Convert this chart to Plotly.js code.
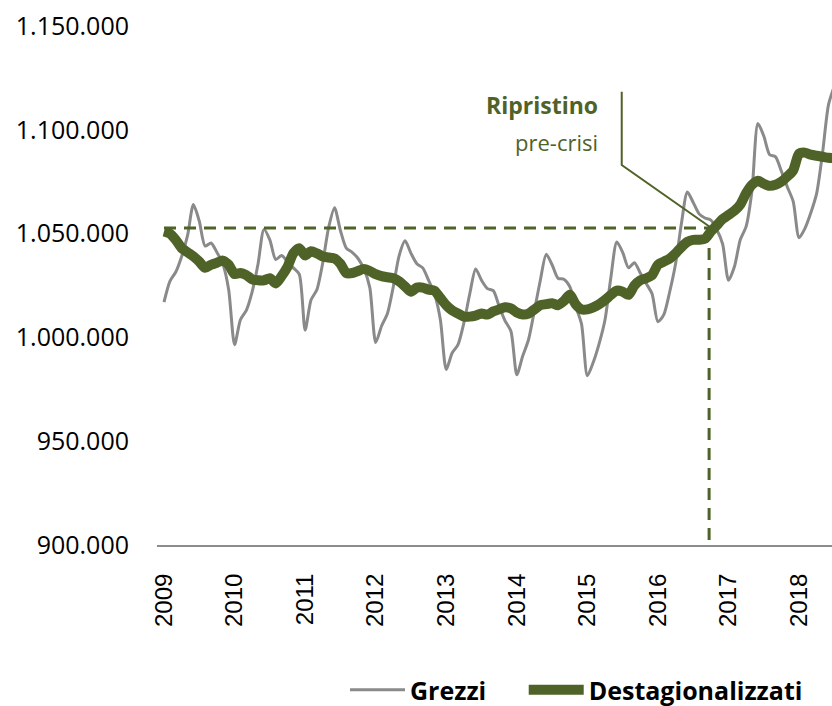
<!DOCTYPE html>
<html>
<head>
<meta charset="utf-8">
<script src="https://cdn.plot.ly/plotly-3.0.1.min.js"></script>
<style>
  html, body { margin: 0; padding: 0; background: #ffffff; }
  #chart { width: 832px; height: 706px; }
</style>
</head>
<body>
<div id="chart"></div>
<script>
// ---- Data (monthly, January 2009 onward) ----
const startYear = 2009;
const yearLabels = ["2009","2010","2011","2012","2013","2014","2015","2016","2017","2018"];
const seriesNames = ["Grezzi", "Destagionalizzati"];

const grezzi = [
  1017000,1027000,1031500,1039000,1049000,1064000,1056000,1044000,1045500,1041000,1035500,1023000,
  996500,1008500,1013000,1022000,1035500,1052000,1047000,1037500,1039500,1036500,1033500,1030500,
  1003500,1018000,1023000,1036000,1053000,1062500,1051500,1043000,1041000,1038000,1033000,1024000,
  997500,1005500,1011500,1024500,1039500,1046500,1040500,1035500,1033500,1027500,1021000,1008500,
  984500,992500,996500,1007000,1021000,1033000,1027500,1023500,1022500,1015000,1008000,1003000,
  982000,991000,999000,1013000,1027500,1040000,1035000,1028500,1028000,1024500,1015000,1006500,
  981500,988000,997000,1008500,1029000,1046000,1041000,1033500,1036000,1031000,1026000,1021000,
  1007500,1011000,1022000,1035500,1055000,1070000,1065000,1059500,1057500,1056500,1052000,1045000,
  1027500,1034000,1047000,1053500,1071000,1103000,1097000,1088000,1087000,1080000,1072500,1065500,
  1048000,1052500,1060000,1069500,1089000,1112000,1121000
];

const destagionalizzati = [
  1051000,1050000,1047000,1043000,1041000,1039000,1036500,1033500,1035000,1036000,1037000,1035000,
  1030500,1031000,1030000,1028000,1027500,1027500,1028500,1026000,1029500,1034000,1040500,1043000,
  1039500,1041500,1040500,1039000,1038500,1038000,1035500,1031000,1031000,1032000,1033000,1032000,
  1030500,1029500,1029000,1028500,1027000,1024500,1022000,1024000,1024000,1023000,1022500,1019000,
  1015500,1013000,1011500,1010000,1010000,1010500,1011500,1011000,1012500,1013500,1014500,1014000,
  1012000,1011000,1011500,1013500,1015500,1016000,1016500,1015500,1017500,1020500,1016000,1013500,
  1013500,1014500,1016000,1018000,1020500,1022500,1022000,1020500,1025000,1027500,1028500,1030000,
  1035000,1036500,1038000,1040500,1043500,1046000,1047000,1047000,1047500,1051000,1054000,1057000,
  1059000,1061000,1064000,1069500,1073500,1075500,1074000,1073000,1073500,1075000,1077500,1080500,
  1088500,1089000,1088000,1087500,1087000,1086500,1086300
];

// pre-crisis level and the month (index from Jan 2009) when it is regained
const preCrisisLevel = 1052700;
const recoveryMonth = 92.7;

// month index axis (0 = Jan 2009)
const monthIndex = grezzi.map((_, i) => i);
const yearTickVals = yearLabels.map((_, k) => k * 12);

const green = "#4F6228";
const gray = "#8A8A8A";
const font = "Open Sans, Noto Sans, sans-serif";
const pad = "\u00a0".repeat(5);

const traces = [
  {
    x: monthIndex, y: grezzi, name: seriesNames[0] + pad, type: "scatter", mode: "lines",
    line: { color: gray, width: 3, shape: "spline", smoothing: 0.7 }
  },
  {
    x: monthIndex, y: destagionalizzati, name: seriesNames[1], type: "scatter", mode: "lines",
    line: { color: green, width: 10, shape: "spline", smoothing: 0.7 }
  }
];

const layout = {
  width: 832, height: 706,
  margin: { l: 157, r: 0, t: 26, b: 161, autoexpand: false },
  paper_bgcolor: "#ffffff", plot_bgcolor: "#ffffff",
  separators: ",.",
  showlegend: true,
  legend: {
    orientation: "h", x: 345 / 832, xref: "container", xanchor: "left",
    y: (706 - 690) / 706, yref: "container", yanchor: "middle",
    font: { family: font, size: 25, color: "#000000", weight: "bold" },
    itemwidth: 55, bgcolor: "rgba(0,0,0,0)"
  },
  xaxis: {
    range: [-1.19, 113.6], automargin: false,
    tickmode: "array", tickvals: yearTickVals, ticktext: yearLabels,
    tickangle: -90,
    tickfont: { family: "Liberation Sans, Arial, sans-serif", size: 24, color: "#000000" },
    showgrid: false, zeroline: false,
    showline: true, linecolor: "#8C8C8C", linewidth: 2,
    ticks: "", ticklabelstandoff: 17
  },
  yaxis: {
    range: [900000, 1150000], automargin: false,
    tickmode: "linear", tick0: 900000, dtick: 50000,
    tickformat: ",d",
    tickfont: { family: font, size: 25, color: "#000000" },
    showgrid: false, zeroline: false, showline: false,
    ticks: "", ticklabelstandoff: 27
  },
  shapes: [
    { type: "line", xref: "x", yref: "y", x0: 0, x1: recoveryMonth, y0: preCrisisLevel, y1: preCrisisLevel,
      line: { color: green, width: 3, dash: "12px,8px" } },
    { type: "line", xref: "x", yref: "y", x0: recoveryMonth, x1: recoveryMonth, y0: preCrisisLevel, y1: 900000,
      line: { color: green, width: 3, dash: "12px,8px" } },
    { type: "path", xref: "x", yref: "y",
      path: "M 77.84,1118350 L 77.84,1083040 L 92.86,1053180",
      line: { color: green, width: 2 } }
  ],
  annotations: [
    { xref: "x", yref: "y", x: 74.2, y: 1111900, xanchor: "right", yanchor: "middle",
      text: "<b>Ripristino</b>", showarrow: false,
      font: { family: font, size: 23, color: green } },
    { xref: "x", yref: "y", x: 74.2, y: 1094000, xanchor: "right", yanchor: "middle",
      text: "pre-crisi", showarrow: false,
      font: { family: font, size: 22, color: green } }
  ]
};

Plotly.newPlot("chart", traces, layout, { displayModeBar: false, staticPlot: true });
</script>
</body>
</html>
